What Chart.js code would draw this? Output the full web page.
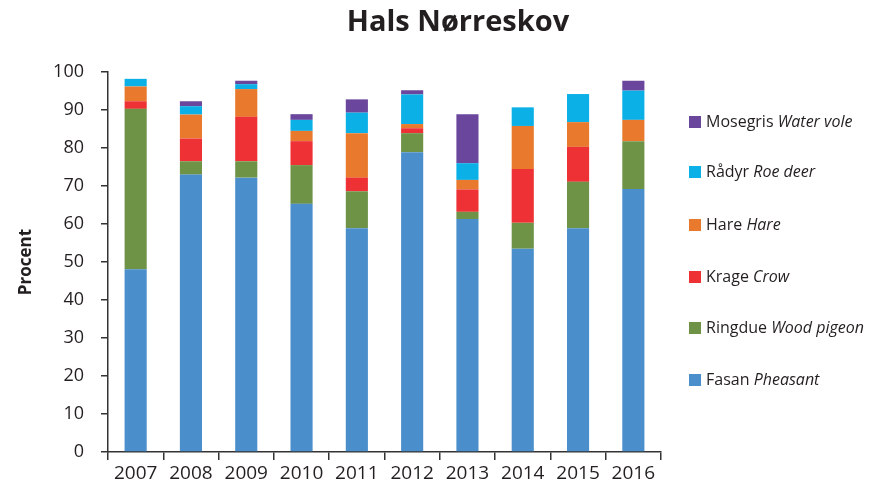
<!DOCTYPE html>
<html>
<head>
<meta charset="utf-8">
<script src="https://cdn.jsdelivr.net/npm/chart.js@4/dist/chart.umd.min.js"></script>
<style>
  html, body { margin: 0; padding: 0; background: #fff; overflow: hidden; }
  #wrap { position: relative; width: 874px; height: 494px; overflow: hidden; }
  #title { position: absolute; left: 0; width: 916px; top: 0px; text-align: center;
           font: bold 29px "Open Sans", sans-serif; color: #231f20; }
  #legend { position: absolute; left: 689px; top: 0; width: 220px; white-space: nowrap;
            font: 16px "Open Sans", sans-serif; color: #231f20; }
  .item { position: absolute; left: 0; height: 22px; line-height: 22px; }
  .sw { display: inline-block; width: 12px; height: 12px; margin-right: 5px; vertical-align: -1px; }
</style>
</head>
<body>
<div id="wrap">
  <canvas id="c" width="874" height="494"></canvas>
  <div id="title">Hals Nørreskov</div>
  <div id="legend"></div>
</div>
<script>
const years = ['2007','2008','2009','2010','2011','2012','2013','2014','2015','2016'];
const fasan    = [48.1, 73.0, 72.2, 65.3, 58.9, 78.9, 61.3, 53.5, 58.9, 69.2];
const ringdue  = [42.2,  3.5,  4.3, 10.2,  9.7,  5.0,  1.9,  6.8, 12.2, 12.6];
const krage    = [ 2.0,  6.0, 11.7,  6.3,  3.6,  1.3,  5.9, 14.2,  9.2,  0.0];
const hare     = [ 3.9,  6.3,  7.3,  2.7, 11.7,  1.1,  2.5, 11.3,  6.5,  5.6];
const raadyr   = [ 2.0,  2.2,  1.3,  2.9,  5.4,  7.8,  4.4,  4.9,  7.4,  7.7];
const mosegris = [ 0.0,  1.3,  0.9,  1.5,  3.5,  1.1, 12.9,  0.0,  0.0,  2.6];
const yTicks = [0,10,20,30,40,50,60,70,80,90,100];

const series = [
  { da: 'Fasan',    en: 'Pheasant',   data: fasan,    color: '#4a8ecc' },
  { da: 'Ringdue',  en: 'Wood pigeon', data: ringdue, color: '#6e9347' },
  { da: 'Krage',    en: 'Crow',       data: krage,    color: '#ee3135' },
  { da: 'Hare',     en: 'Hare',       data: hare,     color: '#e8792d' },
  { da: 'Rådyr',    en: 'Roe deer',   data: raadyr,   color: '#0bb0e6' },
  { da: 'Mosegris', en: 'Water vole', data: mosegris, color: '#6a479c' }
];

const ctx = document.getElementById('c');
const chart = new Chart(ctx, {
  type: 'bar',
  data: {
    labels: years,
    datasets: series.map(s => ({
      label: s.da + ' ' + s.en,
      data: s.data,
      backgroundColor: s.color,
      borderWidth: 0,
      barPercentage: 0.4,
      categoryPercentage: 1.0
    }))
  },
  options: {
    responsive: false,
    animation: false,
    layout: { padding: { top: 72, right: 213, left: 0, bottom: 0 } },
    plugins: { legend: { display: false }, tooltip: { enabled: false }, title: { display: false } },
    scales: {
      x: {
        stacked: true,
        grid: { display: true, drawOnChartArea: false, drawTicks: true, tickLength: 8, color: '#333', lineWidth: 1.5, offset: true },
        border: { display: true, color: '#333', width: 1.5 },
        ticks: { color: '#231f20', font: { family: 'Open Sans', size: 19 }, padding: 2, maxRotation: 0 },
        afterFit: s => { s.height = 42; }
      },
      y: {
        stacked: true,
        min: 0, max: 100,
        afterBuildTicks: s => { s.ticks = yTicks.map(v => ({ value: v })); },
        grid: { display: true, drawOnChartArea: false, drawTicks: true, tickLength: 7, color: '#333', lineWidth: 1.5 },
        border: { display: true, color: '#333', width: 1.5 },
        ticks: { color: '#231f20', font: { family: 'Open Sans', size: 18 }, padding: 17 },
        title: { display: true, text: 'Procent', color: '#231f20', font: { family: 'Open Sans', size: 17, weight: 'bold' }, padding: { top: 16, bottom: 0 } },
        afterFit: s => { s.width = 108; }
      }
    }
  }
});

// HTML legend, reversed order (top = last dataset)
const legend = document.getElementById('legend');
const tops = [368, 316, 265, 213, 160, 110];
series.forEach((s, i) => {
  const d = document.createElement('div');
  d.className = 'item';
  d.style.top = tops[i] + 'px';
  d.innerHTML = '<span class="sw" style="background:' + s.color + '"></span>' + s.da + ' <i>' + s.en + '</i>';
  legend.appendChild(d);
});
</script>
</body>
</html>
